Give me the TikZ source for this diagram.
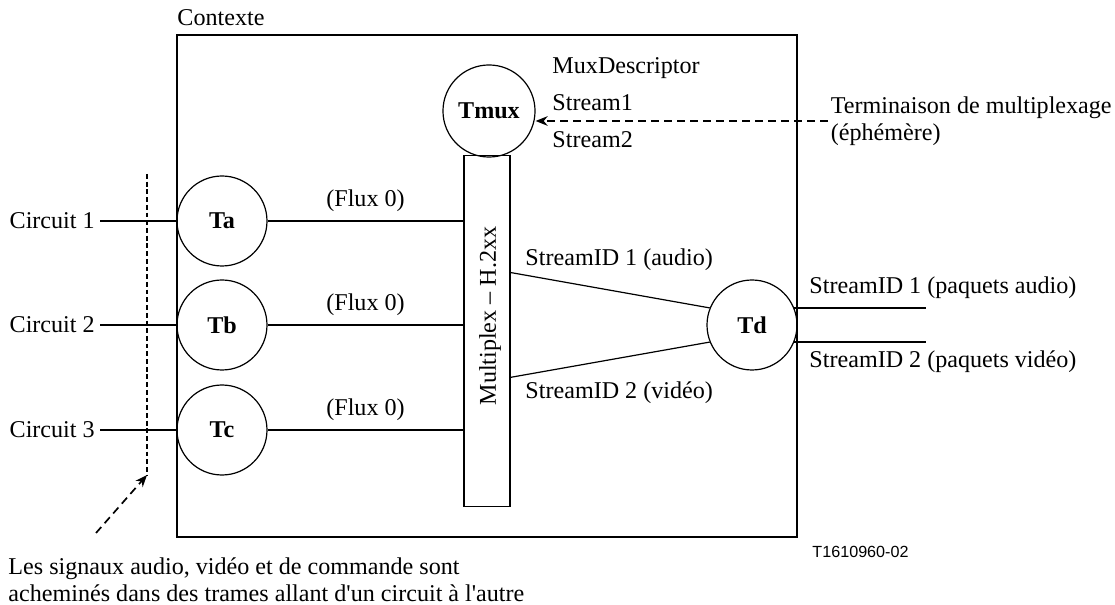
\documentclass[tikz,border=0pt]{standalone}
\usepackage{fontspec}
\setmainfont{Liberation Serif}
\setsansfont{Liberation Sans}
\usetikzlibrary{arrows.meta,positioning}

\begin{document}
\begin{tikzpicture}[x=0.415pt, y=-0.415pt, >={Stealth[length=5pt,width=4pt]}]
\tikzstyle{every node}=[font=\fontsize{10}{11.2}\selectfont]
\tikzstyle{term}=[draw, circle, line width=0.5pt, minimum size=37.35pt, inner sep=0pt, font=\fontsize{10}{11.2}\selectfont\bfseries]
\tikzstyle{txt}=[anchor=west, inner sep=0pt, align=left]
\tikzstyle{circ}=[anchor=east, inner sep=2pt]
\tikzstyle{fil}=[line width=0.9pt]
\tikzstyle{mince}=[line width=0.5pt]
\tikzstyle{tiret}=[line width=0.7pt, dash pattern=on 3.3pt off 2.1pt]
\tikzstyle{pointille}=[line width=0.6pt, dash pattern=on 2pt off 1.2pt]
\useasboundingbox (0,0) rectangle (1115,605);
   \node[draw, mince, minimum width=257.3pt, minimum height=208.3pt](ctx) at (487,286){};
   \node[txt](ctxlbl) at (177,18){Contexte};
   \node[term, minimum size=38.2pt](tmux) at (489,111){Tmux};
   \node[txt](muxdesc) at (552,68){MuxDescriptor};
   \node[txt](stream1) at (552,103){Stream1};
   \node[txt](stream2) at (552,140){Stream2};
   \node[txt, inner xsep=1pt](termlbl) at (828,121){Terminaison de multiplexage\\(éphémère)};
   \node[draw, mince, minimum width=19.1pt, minimum height=145.7pt](mux) at (487,331){};
   \node[rotate=90](muxlbl) at (490,316){Multiplex -- H.2xx};
   \node[term](ta) at (222,221){Ta};
   \node[term](tb) at (222,325){Tb};
   \node[term](tc) at (222,430){Tc};
   \node[term](td) at (752,325){Td};
   \node[circ](c1) at (100,221){Circuit 1};
   \node[circ](c2) at (100,325){Circuit 2};
   \node[circ](c3) at (100,430){Circuit 3};
   \node[txt](sid1) at (525,260){StreamID 1 (audio)};
   \node[txt](sid2) at (525,393){StreamID 2 (vidéo)};
   \node[txt](pqa) at (809,288){StreamID 1 (paquets audio)};
   \node[txt](pqv) at (809,362){StreamID 2 (paquets vidéo)};
   \node[txt](note) at (8,580){Les signaux audio, vidéo et de commande sont\\achemin\'es dans des trames allant d\textquotesingle un circuit \`a l\textquotesingle autre};
   \node[txt, font=\sffamily\fontsize{6.7}{8}\selectfont](tref) at (812,552){T1610960-02};
   \coordinate (aout) at (926,307);
   \coordinate (vtop) at (147,174);
   \coordinate (vbot) at (147,475);
   \coordinate (nstart) at (96,533);
   % circuits vers terminaisons
   \draw[fil](c1) -- (ta);
   \draw[fil](c2) -- (tb);
   \draw[fil](c3) -- (tc);
   \path[fil](ta) edge node[above] {(Flux 0)}(ta -| mux.west);
   \path[fil](tb) edge node[above] {(Flux 0)}(tb -| mux.west);
   \path[fil](tc) edge node[above] {(Flux 0)}(tc -| mux.west);
   % multiplex vers Td
   \draw[mince](mux.68) -- (td.158);
   \draw[mince](mux.-63) -- (td.202);
   \draw[fil](td.22) -- (td.22 -| aout);
   \draw[fil](td.-22) -- (td.-22 -| aout);
   % fleches en tirets
   \draw[tiret,->](termlbl.west) -- (termlbl.west -| tmux.east);
   \draw[pointille](vtop) -- (vbot);
   \draw[tiret,->](nstart) -- (vbot);
\end{tikzpicture}
\end{document}
